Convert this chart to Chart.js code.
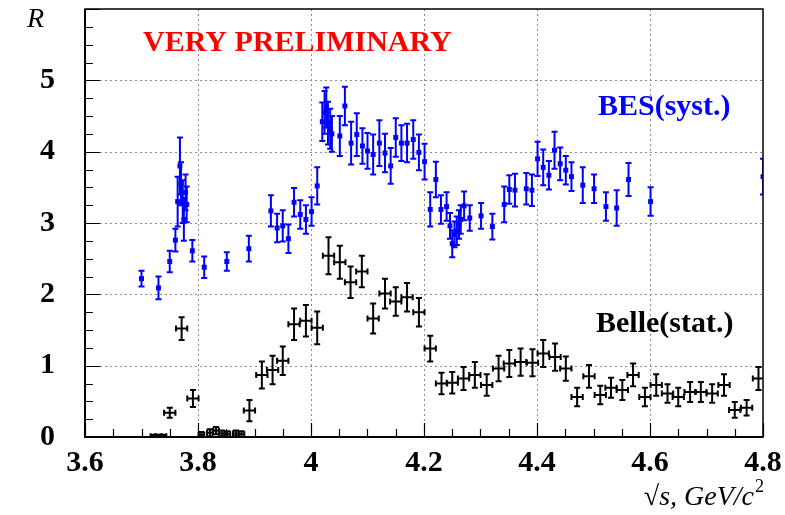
<!DOCTYPE html>
<html>
<head>
<meta charset="utf-8">
<script src="https://cdn.jsdelivr.net/npm/chart.js@4/dist/chart.umd.min.js"></script>
<style>
  html, body { margin: 0; padding: 0; background: #fff; }
  canvas { display: block; }
</style>
</head>
<body>
<canvas id="c" width="785" height="515"></canvas>
<script>
// BES: centre-of-mass energy (GeV), R and its systematic uncertainty
const besEnergy = [3.700, 3.730, 3.750, 3.760, 3.764, 3.768, 3.770, 3.773, 3.775, 3.778, 3.780, 3.790,
  3.811, 3.851, 3.890, 3.929, 3.940, 3.950, 3.960, 3.970, 3.981, 3.991, 4.001, 4.011,
  4.020, 4.024, 4.027, 4.030, 4.034, 4.037, 4.051, 4.060, 4.071, 4.081, 4.091, 4.100,
  4.110, 4.121, 4.131, 4.141, 4.150, 4.160, 4.170, 4.181, 4.191, 4.201, 4.211, 4.221,
  4.230, 4.240, 4.246, 4.250, 4.254, 4.258, 4.262, 4.265, 4.271, 4.281, 4.301, 4.321,
  4.342, 4.351, 4.361, 4.381, 4.391, 4.401, 4.411, 4.421, 4.431, 4.441, 4.451, 4.461,
  4.481, 4.501, 4.522, 4.541, 4.562, 4.601, 4.800];
const besR = [2.22, 2.09, 2.46, 2.76, 3.30, 3.80, 3.55, 3.30, 3.05, 3.43, 3.26, 2.61,
  2.38, 2.46, 2.64, 3.17, 2.93, 2.96, 2.78, 3.29, 3.12, 3.05, 3.16, 3.52,
  4.42, 4.55, 4.62, 4.40, 4.32, 4.25, 4.22, 4.64, 4.12, 4.24, 4.08, 4.01,
  3.96, 4.12, 3.98, 3.80, 4.20, 4.12, 4.12, 4.17, 3.99, 3.86, 3.19, 3.61,
  3.19, 3.23, 2.96, 2.71, 2.84, 2.89, 2.98, 3.05, 3.24, 3.07, 3.10, 2.95,
  3.26, 3.47, 3.46, 3.48, 3.46, 3.90, 3.78, 3.67, 4.02, 3.83, 3.74, 3.65,
  3.53, 3.48, 3.23, 3.21, 3.61, 3.30, 3.65];
const besErr = [0.11, 0.16, 0.15, 0.16, 0.35, 0.40, 0.30, 0.30, 0.30, 0.25, 0.25, 0.15,
  0.15, 0.13, 0.18, 0.22, 0.20, 0.22, 0.20, 0.20, 0.20, 0.20, 0.20, 0.26,
  0.27, 0.30, 0.28, 0.30, 0.28, 0.25, 0.28, 0.27, 0.30, 0.30, 0.25, 0.25,
  0.28, 0.32, 0.27, 0.25, 0.27, 0.25, 0.27, 0.27, 0.25, 0.25, 0.24, 0.25,
  0.20, 0.20, 0.18, 0.19, 0.18, 0.20, 0.20, 0.20, 0.20, 0.18, 0.18, 0.18,
  0.25, 0.20, 0.23, 0.22, 0.22, 0.24, 0.25, 0.20, 0.26, 0.23, 0.20, 0.20,
  0.25, 0.20, 0.20, 0.25, 0.23, 0.20, 0.25];

// Belle: energy bin centre, R, statistical uncertainty and half bin width
const belleEnergy = [3.720, 3.730, 3.740, 3.750, 3.771, 3.791, 3.806, 3.821, 3.832, 3.842, 3.852, 3.867,
  3.877, 3.891, 3.913, 3.932, 3.950, 3.970, 3.991, 4.011, 4.031, 4.051, 4.070, 4.090,
  4.110, 4.131, 4.150, 4.170, 4.191, 4.211, 4.231, 4.250, 4.270, 4.290, 4.311, 4.332,
  4.351, 4.371, 4.392, 4.411, 4.432, 4.451, 4.471, 4.492, 4.512, 4.531, 4.551, 4.570,
  4.591, 4.611, 4.631, 4.650, 4.671, 4.690, 4.710, 4.731, 4.750, 4.771, 4.792];
const belleR = [0.01, 0.01, 0.01, 0.34, 1.52, 0.54, 0.03, 0.06, 0.09, 0.05, 0.04, 0.05,
  0.04, 0.37, 0.87, 0.94, 1.07, 1.58, 1.63, 1.53, 2.54, 2.45, 2.17, 2.32,
  1.66, 2.01, 1.90, 1.96, 1.75, 1.24, 0.75, 0.76, 0.82, 0.87, 0.73, 0.96,
  1.03, 1.05, 1.04, 1.17, 1.12, 0.96, 0.56, 0.85, 0.59, 0.69, 0.66, 0.87,
  0.56, 0.73, 0.61, 0.56, 0.63, 0.63, 0.61, 0.73, 0.38, 0.41, 0.82];
const belleErr = [0.02, 0.02, 0.02, 0.07, 0.16, 0.12, 0.04, 0.05, 0.05, 0.04, 0.04, 0.04,
  0.04, 0.15, 0.19, 0.20, 0.20, 0.22, 0.22, 0.23, 0.26, 0.23, 0.22, 0.22,
  0.21, 0.21, 0.20, 0.20, 0.20, 0.18, 0.15, 0.15, 0.16, 0.18, 0.15, 0.18,
  0.19, 0.19, 0.19, 0.19, 0.19, 0.17, 0.13, 0.16, 0.13, 0.14, 0.14, 0.16,
  0.13, 0.15, 0.13, 0.13, 0.14, 0.14, 0.13, 0.15, 0.11, 0.11, 0.16];
const belleHalfBin = [0.004, 0.004, 0.004, 0.010, 0.010, 0.010, 0.005, 0.005, 0.005, 0.005, 0.005, 0.005,
  0.005, 0.010, 0.010, 0.010, 0.010, 0.010, 0.010, 0.010, 0.010, 0.010, 0.010, 0.010,
  0.010, 0.010, 0.010, 0.010, 0.010, 0.010, 0.010, 0.010, 0.010, 0.010, 0.010, 0.010,
  0.010, 0.010, 0.010, 0.010, 0.010, 0.010, 0.010, 0.010, 0.010, 0.010, 0.010, 0.010,
  0.010, 0.010, 0.010, 0.010, 0.010, 0.010, 0.010, 0.010, 0.010, 0.010, 0.010];

// Axis ticks
const xTickValues = [3.6, 3.8, 4.0, 4.2, 4.4, 4.6, 4.8];
const yTickValues = [0, 1, 2, 3, 4, 5];
const xMinorStep = 0.05;
const yMinorStep = 0.25;

const besPoints = besEnergy.map((e, i) => ({ x: e, y: besR[i], yErr: besErr[i], xErr: 0 }));
const bellePoints = belleEnergy.map((e, i) => ({ x: e, y: belleR[i], yErr: belleErr[i], xErr: belleHalfBin[i] }));

const SERIF = '"Liberation Serif", "Times New Roman", serif';

// Dotted grid at the major ticks
const gridLines = {
  id: 'gridLines',
  beforeDatasetsDraw(chart) {
    const { ctx, chartArea: a, scales: { x, y } } = chart;
    ctx.save();
    ctx.strokeStyle = '#8c8c8c';
    ctx.lineWidth = 1;
    ctx.setLineDash([2, 3]);
    xTickValues.forEach(v => {
      const px = Math.round(x.getPixelForValue(v)) + 0.5;
      if (px <= a.left + 1 || px >= a.right - 1) return;
      ctx.beginPath(); ctx.moveTo(px, a.top); ctx.lineTo(px, a.bottom); ctx.stroke();
    });
    yTickValues.forEach(v => {
      const py = Math.round(y.getPixelForValue(v)) + 0.5;
      if (py <= a.top + 1 || py >= a.bottom - 1) return;
      ctx.beginPath(); ctx.moveTo(a.left, py); ctx.lineTo(a.right, py); ctx.stroke();
    });
    ctx.restore();
  }
};

// Error bars with end caps, drawn from each point's uncertainties
const errorBars = {
  id: 'errorBars',
  beforeDatasetsDraw(chart) {
    const { ctx, chartArea: a, scales: { x, y } } = chart;
    ctx.save();
    ctx.beginPath();
    ctx.rect(a.left, a.top, a.right - a.left, a.bottom - a.top);
    ctx.clip();
    chart.data.datasets.forEach(ds => {
      ctx.strokeStyle = ds.borderColor;
      ctx.lineWidth = 2;
      const cap = 3;
      ds.data.forEach(p => {
        const px = x.getPixelForValue(p.x);
        const py = y.getPixelForValue(p.y);
        const yLo = y.getPixelForValue(p.y - p.yErr);
        const yHi = y.getPixelForValue(p.y + p.yErr);
        ctx.beginPath();
        ctx.moveTo(px, yLo); ctx.lineTo(px, yHi);
        ctx.moveTo(px - cap, yLo); ctx.lineTo(px + cap, yLo);
        ctx.moveTo(px - cap, yHi); ctx.lineTo(px + cap, yHi);
        if (p.xErr > 0) {
          const xLo = x.getPixelForValue(p.x - p.xErr);
          const xHi = x.getPixelForValue(p.x + p.xErr);
          ctx.moveTo(xLo, py); ctx.lineTo(xHi, py);
          ctx.moveTo(xLo, py - cap); ctx.lineTo(xLo, py + cap);
          ctx.moveTo(xHi, py - cap); ctx.lineTo(xHi, py + cap);
        }
        ctx.stroke();
      });
    });
    ctx.restore();
  }
};

// Frame with inward-pointing major and minor ticks
const frameTicks = {
  id: 'frameTicks',
  afterDatasetsDraw(chart) {
    const { ctx, chartArea: a, scales: { x, y } } = chart;
    ctx.save();
    ctx.strokeStyle = '#000';
    ctx.lineWidth = 1.5;
    ctx.strokeRect(a.left, a.top, a.right - a.left, a.bottom - a.top);
    ctx.lineWidth = 1.2;
    ctx.beginPath();
    const nx = Math.round((x.max - x.min) / xMinorStep);
    for (let i = 0; i <= nx; i++) {
      const v = x.min + i * xMinorStep;
      const px = Math.round(x.getPixelForValue(v)) + 0.5;
      const major = i % 4 === 0;
      ctx.moveTo(px, a.bottom); ctx.lineTo(px, a.bottom - (major ? 14 : 8));
    }
    const ny = Math.round((y.max - y.min) / yMinorStep);
    for (let i = 0; i <= ny; i++) {
      const v = y.min + i * yMinorStep;
      const py = Math.round(y.getPixelForValue(v)) + 0.5;
      const major = i % 4 === 0;
      ctx.moveTo(a.left, py); ctx.lineTo(a.left + (major ? 15 : 8), py);
    }
    ctx.stroke();
    ctx.lineWidth = 2;
    ctx.beginPath();
    ctx.moveTo(a.left, a.top); ctx.lineTo(a.left, a.bottom); ctx.lineTo(a.right, a.bottom);
    ctx.stroke();
    ctx.restore();
  }
};

// Axis titles and annotations
const labels = {
  id: 'labels',
  afterDraw(chart) {
    const { ctx, chartArea: a } = chart;
    ctx.save();
    ctx.textBaseline = 'alphabetic';
    ctx.textAlign = 'left';
    ctx.font = 'bold 30px ' + SERIF;
    ctx.fillStyle = '#ff0000';
    ctx.fillText('VERY PRELIMINARY', 143, 51);
    ctx.fillStyle = '#0000ff';
    ctx.fillText('BES(syst.)', 598, 115);
    ctx.fillStyle = '#000';
    ctx.fillText('Belle(stat.)', 596, 332);

    ctx.font = 'italic 28px ' + SERIF;
    ctx.fillText('R', 27, 27);

    const main = '\u221As, GeV/c';
    ctx.font = 'italic 28px ' + SERIF;
    const wMain = ctx.measureText(main).width;
    ctx.font = '18px ' + SERIF;
    const wSup = ctx.measureText('2').width;
    const x0 = a.right - wMain - wSup;
    ctx.font = 'italic 28px ' + SERIF;
    ctx.fillText(main, x0, 505);
    ctx.font = '18px ' + SERIF;
    ctx.fillText('2', x0 + wMain + 1, 492);
    ctx.restore();
  }
};

const tickFont = { family: SERIF, weight: 'bold', size: 30 };

new Chart(document.getElementById('c'), {
  type: 'scatter',
  data: {
    datasets: [
      {
        label: 'BES(syst.)',
        data: besPoints,
        pointStyle: 'rect',
        pointRadius: 3.5,
        backgroundColor: '#0000ff',
        borderColor: '#0000ff',
        borderWidth: 0
      },
      {
        label: 'Belle(stat.)',
        data: bellePoints,
        pointRadius: 0,
        backgroundColor: '#000',
        borderColor: '#000'
      }
    ]
  },
  options: {
    responsive: false,
    animation: false,
    devicePixelRatio: 1,
    events: [],
    layout: { padding: { top: 9, right: 22, bottom: 0, left: 0 }, autoPadding: false },
    plugins: { legend: { display: false }, tooltip: { enabled: false } },
    scales: {
      x: {
        type: 'linear',
        min: 3.6,
        max: 4.8,
        afterBuildTicks: s => { s.ticks = xTickValues.map(v => ({ value: v })); },
        afterFit: s => { s.height = 78; s.paddingLeft = 0; s.paddingRight = 0; },
        ticks: {
          font: tickFont,
          color: '#000',
          padding: 8,
          maxRotation: 0,
          autoSkip: false,
          callback: v => String(Number(v.toFixed(1)))
        },
        grid: { display: false, drawTicks: false },
        border: { display: false }
      },
      y: {
        type: 'linear',
        min: 0,
        max: 6,
        afterBuildTicks: s => { s.ticks = yTickValues.map(v => ({ value: v })); },
        afterFit: s => { s.width = 85; s.paddingTop = 0; s.paddingBottom = 0; },
        ticks: {
          font: tickFont,
          color: '#000',
          padding: 30,
          callback: v => String(v)
        },
        grid: { display: false, drawTicks: false },
        border: { display: false }
      }
    }
  },
  plugins: [gridLines, errorBars, frameTicks, labels]
});
</script>
</body>
</html>
